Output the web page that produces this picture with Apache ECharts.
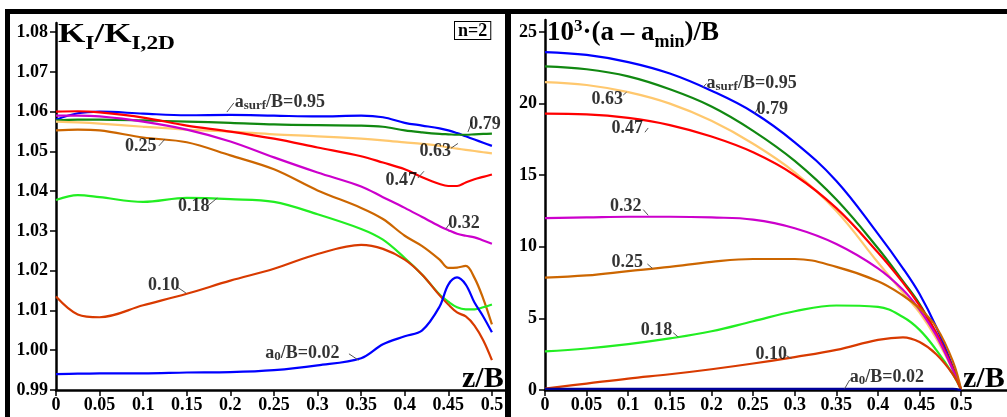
<!DOCTYPE html>
<html>
<head>
<meta charset="utf-8">
<script src="https://cdn.jsdelivr.net/npm/echarts@6/dist/echarts.min.js"></script>
<style>
html, body { margin: 0; padding: 0; background: #fff; }
#chart { width: 1007px; height: 417px; }
</style>
</head>
<body>
<div id="chart"></div>
<script>
// z/B positions where the curves were read
const zLeft = [0, 0.025, 0.05, 0.1, 0.15, 0.2, 0.25, 0.3, 0.35, 0.375, 0.4, 0.42, 0.44, 0.45, 0.46, 0.47, 0.48, 0.49, 0.5];
const zRight = [0, 0.05, 0.1, 0.15, 0.2, 0.25, 0.3, 0.35, 0.4, 0.43, 0.45, 0.47, 0.49, 0.5];

// left panel: K_I / K_I,2D
const k95 = [1.0580, 1.0596, 1.0600, 1.0595, 1.0591, 1.0592, 1.0590, 1.0588, 1.0590, 1.0586, 1.0572, 1.0565, 1.0558, 1.0553, 1.0546, 1.0538, 1.0530, 1.0522, 1.0514];
const k79 = [1.0578, 1.0580, 1.0580, 1.0578, 1.0575, 1.0572, 1.0568, 1.0566, 1.0565, 1.0562, 1.0553, 1.0548, 1.0544, 1.0543, 1.0542, 1.0542, 1.0543, 1.0544, 1.0545];
const k63 = [1.0575, 1.0573, 1.0570, 1.0562, 1.0555, 1.0550, 1.0543, 1.0538, 1.0532, 1.0528, 1.0523, 1.0519, 1.0514, 1.0510, 1.0507, 1.0504, 1.0501, 1.0498, 1.0495];
const k47 = [1.0600, 1.0601, 1.0598, 1.0585, 1.0565, 1.0550, 1.0532, 1.0510, 1.0488, 1.0472, 1.0455, 1.0435, 1.0418, 1.0413, 1.0413, 1.0422, 1.0430, 1.0436, 1.0442];
const k32 = [1.0590, 1.0590, 1.0588, 1.0575, 1.0555, 1.0525, 1.0485, 1.0447, 1.0412, 1.0385, 1.0358, 1.0335, 1.0312, 1.0302, 1.0293, 1.0288, 1.0284, 1.0276, 1.0268];
const k25 = [1.0553, 1.0555, 1.0553, 1.0535, 1.0523, 1.0490, 1.0455, 1.0402, 1.0358, 1.0330, 1.0288, 1.0262, 1.0228, 1.0207, 1.0208, 1.0212, 1.0182, 1.0130, 1.0065];
const k18 = [1.0378, 1.0390, 1.0385, 1.0373, 1.0383, 1.0380, 1.0373, 1.0342, 1.0305, 1.0278, 1.0232, 1.0190, 1.0140, 1.0122, 1.0108, 1.0103, 1.0103, 1.0108, 1.0115];
const k10 = [1.0135, 1.0090, 1.0083, 1.0113, 1.0142, 1.0175, 1.0205, 1.0242, 1.0265, 1.0255, 1.0228, 1.0190, 1.0138, 1.0115, 1.0095, 1.0085, 1.0062, 1.0025, 0.9975];
const k02 = [0.9940, 0.9941, 0.9942, 0.9942, 0.9944, 0.9945, 0.9950, 0.9962, 0.9980, 1.0015, 1.0035, 1.0050, 1.0110, 1.0165, 1.0183, 1.0165, 1.0120, 1.0085, 1.0045];

// right panel: 10^3 (a - a_min)/B
const a95 = [23.6, 23.4, 22.9, 22.1, 20.9, 19.4, 17.3, 14.6, 10.9, 8.5, 6.7, 4.4, 1.6, 0];
const a79 = [22.6, 22.4, 21.9, 21.0, 19.8, 18.1, 16.0, 13.3, 9.9, 7.6, 6.0, 3.9, 1.5, 0];
const a63 = [21.5, 21.3, 20.8, 20.0, 18.8, 17.2, 15.2, 12.5, 8.9, 6.8, 5.4, 3.6, 1.4, 0];
const a47 = [19.3, 19.25, 19.0, 18.5, 17.7, 16.6, 15.0, 12.7, 9.6, 7.5, 5.9, 4.0, 1.5, 0];
const a32 = [12.0, 12.05, 12.1, 12.1, 12.05, 11.9, 11.3, 10.2, 8.5, 7.0, 5.6, 3.8, 1.4, 0];
const a25 = [7.85, 8.0, 8.3, 8.6, 8.95, 9.15, 9.15, 8.6, 7.6, 6.6, 5.7, 4.4, 2.0, 0];
const a18 = [2.7, 2.9, 3.2, 3.6, 4.1, 4.8, 5.5, 5.9, 5.8, 5.1, 4.2, 2.8, 1.1, 0];
const a10 = [0.1, 0.45, 0.8, 1.1, 1.45, 1.85, 2.3, 2.8, 3.5, 3.68, 3.35, 2.5, 1.1, 0];
const a02 = [0.08, 0.08, 0.08, 0.08, 0.08, 0.08, 0.08, 0.08, 0.08, 0.08, 0.08, 0.08, 0.08, 0];

const curveNames = ['0.95', '0.79', '0.63', '0.47', '0.32', '0.25', '0.18', '0.10', '0.02'];
const curveColors = ['#0000ff', '#118811', '#ffc86e', '#ff0000', '#cc00cc', '#cc6600', '#22ee22', '#d83a00', '#0000ff'];
const leftCurves = [k95, k79, k63, k47, k32, k25, k18, k10, k02];
const rightCurves = [a95, a79, a63, a47, a32, a25, a18, a10, a02];

const xTicks = [0, 0.05, 0.1, 0.15, 0.2, 0.25, 0.3, 0.35, 0.4, 0.45, 0.5];
const yTicksLeft = [0.99, 1.00, 1.01, 1.02, 1.03, 1.04, 1.05, 1.06, 1.07, 1.08];
const yTicksRight = [0, 5, 10, 15, 20, 25];

// curve labels: [z, value, text] (left edge, middle of the text)
const labelsLeft = [
  [0.205, 1.0624, '{n|a}{s|surf}{n|/B=0.95}'],
  [0.474, 1.0569, '0.79'],
  [0.417, 1.0499, '0.63'],
  [0.378, 1.0428, '0.47'],
  [0.450, 1.0320, '0.32'],
  [0.079, 1.0514, '0.25'],
  [0.140, 1.0363, '0.18'],
  [0.1055, 1.0162, '0.10'],
  [0.240, 0.9993, '{n|a}{s|0}{n|/B=0.02}']
];
const labelsRight = [
  [0.194, 21.4, '{n|a}{s|surf}{n|/B=0.95}'],
  [0.254, 19.6, '0.79'],
  [0.056, 20.3, '0.63'],
  [0.080, 18.3, '0.47'],
  [0.078, 12.8, '0.32'],
  [0.080, 8.9, '0.25'],
  [0.115, 4.2, '0.18'],
  [0.253, 2.5, '0.10'],
  [0.366, 0.9, '{n|a}{s|0}{n|/B=0.02}']
];
// short leader strokes from curve to label: [z1, v1, z2, v2]
const leadersLeft = [
  [0.196, 1.0599, 0.204, 1.0622],
  [0.4725, 1.0549, 0.477, 1.0574],
  [0.453, 1.0508, 0.461, 1.0520],
  [0.415, 1.0433, 0.422, 1.0450],
  [0.447, 1.0305, 0.452, 1.0320],
  [0.118, 1.0514, 0.125, 1.0531],
  [0.174, 1.0363, 0.185, 1.0383],
  [0.139, 1.0159, 0.149, 1.0144],
  [0.336, 0.9991, 0.347, 0.9975]
];
const leadersRight = [
  [0.189, 21.1, 0.194, 21.4],
  [0.252, 19.3, 0.256, 19.7],
  [0.094, 20.6, 0.098, 20.8],
  [0.120, 18.0, 0.124, 18.3],
  [0.118, 12.6, 0.124, 12.2],
  [0.123, 8.8, 0.129, 8.5],
  [0.154, 4.0, 0.160, 3.7],
  [0.290, 2.4, 0.296, 2.2],
  [0.360, 0.1, 0.366, 0.7]
];

const serif = '"Liberation Serif", "DejaVu Serif", serif';
const labelRich = {
  n: { fontFamily: serif, fontWeight: 'bold', fontSize: 18, color: '#000', lineHeight: 20 },
  s: { fontFamily: serif, fontWeight: 'bold', fontSize: 13, color: '#000', lineHeight: 13, verticalAlign: 'bottom' }
};

function pairs(zs, vs) {
  return zs.map((z, i) => [z, vs[i]]);
}

function fmtZ(v) {
  return v === 0 ? '0' : String(+v.toFixed(2));
}

const series = [];
leftCurves.forEach((vals, i) => {
  series.push({
    name: 'L' + curveNames[i], type: 'line', xAxisIndex: 0, yAxisIndex: 0,
    data: pairs(zLeft, vals), smooth: 0.35, showSymbol: false, silent: true,
    lineStyle: { color: curveColors[i], width: 2.2 }, z: 3
  });
});
rightCurves.forEach((vals, i) => {
  series.push({
    name: 'R' + curveNames[i], type: 'line', xAxisIndex: 1, yAxisIndex: 1,
    data: pairs(zRight, vals), smooth: 0.4, showSymbol: false, silent: true,
    lineStyle: { color: i === 8 ? '#000099' : curveColors[i], width: 2.2 }, z: 3
  });
});

function labelSeries(labels, leaders, ax) {
  return {
    type: 'scatter', xAxisIndex: ax, yAxisIndex: ax, silent: true, z: 5,
    symbolSize: 0,
    data: labels.map(l => ({ value: [l[0], l[1]], text: l[2] })),
    label: {
      show: true, position: 'right', distance: 0,
      formatter: p => p.data.text.indexOf('{') === 0 ? p.data.text : '{n|' + p.data.text + '}',
      rich: labelRich
    },
    markLine: {
      silent: true, symbol: 'none', animation: false,
      label: { show: false },
      lineStyle: { color: '#555', width: 1, type: 'solid' },
      data: leaders.map(d => [{ coord: [d[0], d[1]] }, { coord: [d[2], d[3]] }])
    }
  };
}
series.push(labelSeries(labelsLeft, leadersLeft, 0));
series.push(labelSeries(labelsRight, leadersRight, 1));

const axisFont = { fontFamily: serif, fontWeight: 'bold', fontSize: 18, color: '#000' };
const axisLine = { show: true, onZero: false, lineStyle: { color: '#000', width: 2.5 } };
const tick = (vals) => ({ show: true, length: 6, customValues: vals, lineStyle: { color: '#000', width: 1.5 } });

const option = {
  animation: false,
  backgroundColor: '#fff',
  grid: [
    { left: 56, right: 502, top: 23, bottom: 27 },
    { left: 545, right: 0, top: 20, bottom: 27 }
  ],
  xAxis: [
    {
      type: 'value', gridIndex: 0, min: 0, max: 0.515,
      axisLine: axisLine, axisTick: tick(xTicks), splitLine: { show: false },
      axisLabel: Object.assign({ margin: 6, customValues: xTicks, formatter: fmtZ }, axisFont)
    },
    {
      type: 'value', gridIndex: 1, min: 0, max: 0.555,
      axisLine: axisLine, axisTick: tick(xTicks), splitLine: { show: false },
      axisLabel: Object.assign({ margin: 6, customValues: xTicks, formatter: fmtZ }, axisFont)
    }
  ],
  yAxis: [
    {
      type: 'value', gridIndex: 0, min: 0.99, max: 1.0823,
      axisLine: axisLine, axisTick: tick(yTicksLeft), splitLine: { show: false },
      axisLabel: Object.assign({ margin: 8, customValues: yTicksLeft, formatter: v => v.toFixed(2) }, axisFont)
    },
    {
      type: 'value', gridIndex: 1, min: 0, max: 25.84,
      axisLine: axisLine, axisTick: tick(yTicksRight), splitLine: { show: false },
      axisLabel: Object.assign({ margin: 8, customValues: yTicksRight }, axisFont)
    }
  ],
  graphic: [
    // frame
    { type: 'rect', shape: { x: 5, y: 9, width: 1002, height: 5 }, style: { fill: '#000' }, silent: true },
    { type: 'rect', shape: { x: 5, y: 9, width: 5, height: 408 }, style: { fill: '#000' }, silent: true },
    { type: 'rect', shape: { x: 505, y: 9, width: 6, height: 408 }, style: { fill: '#000' }, silent: true },
    // titles
    {
      type: 'text', x: 58, y: 20, scaleX: 1.3, silent: true, z: 10,
      style: {
        text: '{b|K}{s|I}{b|/K}{s|I,2D}',
        rich: {
          b: { fontFamily: serif, fontWeight: 'bold', fontSize: 27, lineHeight: 30, fill: '#000' },
          s: { fontFamily: serif, fontWeight: 'bold', fontSize: 18, lineHeight: 18, verticalAlign: 'bottom', fill: '#000', padding: [0, 0, -3, 0] }
        }
      }
    },
    {
      type: 'text', x: 547, y: 18, silent: true, z: 10,
      style: {
        text: '{b|10}{p|3}{b|·(a \u2013 a}{s|min}{b|)/B}',
        rich: {
          b: { fontFamily: serif, fontWeight: 'bold', fontSize: 27, lineHeight: 30, fill: '#000' },
          p: { fontFamily: serif, fontWeight: 'bold', fontSize: 17, lineHeight: 17, verticalAlign: 'top', fill: '#000' },
          s: { fontFamily: serif, fontWeight: 'bold', fontSize: 18, lineHeight: 18, verticalAlign: 'bottom', fill: '#000', padding: [0, 0, -3, 0] }
        }
      }
    },
    {
      type: 'text', x: 462, y: 364, silent: true, z: 10,
      style: { text: 'z/B', fontFamily: serif, fontWeight: 'bold', fontSize: 30, fill: '#000' }
    },
    {
      type: 'text', x: 963, y: 364, silent: true, z: 10,
      style: { text: 'z/B', fontFamily: serif, fontWeight: 'bold', fontSize: 30, fill: '#000' }
    },
    {
      type: 'text', x: 455, y: 22, silent: true, z: 10,
      style: {
        text: 'n=2', fontFamily: serif, fontWeight: 'bold', fontSize: 18, fill: '#000',
        backgroundColor: '#fff', borderColor: '#000', borderWidth: 1, padding: [0, 3, -1, 3]
      }
    }
  ],
  series: series
};

const myChart = echarts.init(document.getElementById('chart'), null, { renderer: 'canvas' });
myChart.setOption(option);
</script>
</body>
</html>
